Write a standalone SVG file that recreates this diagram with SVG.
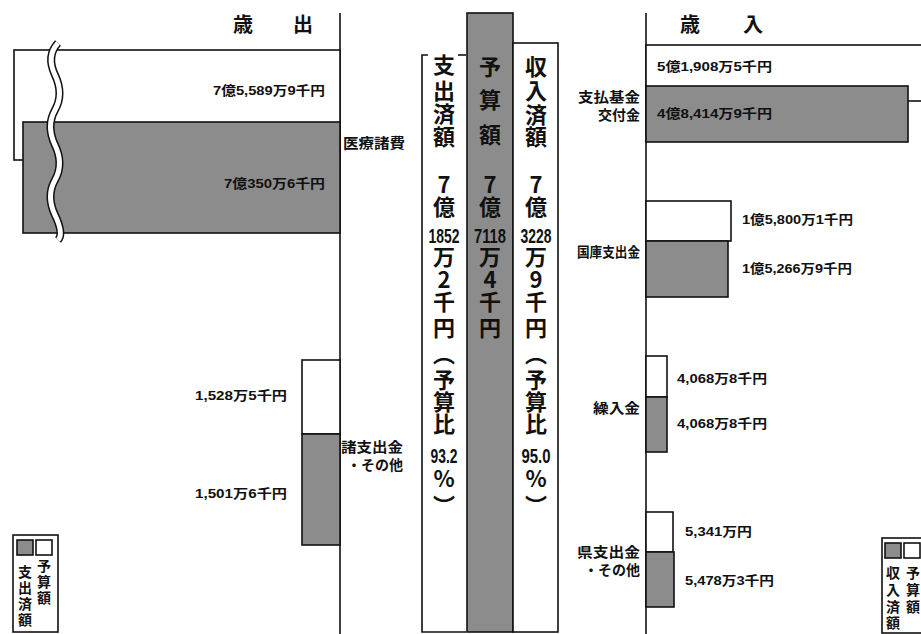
<svg xmlns="http://www.w3.org/2000/svg" width="921" height="634" viewBox="0 0 921 634">
<defs>
<style>
.bg{fill:#fff}
.w{fill:#fff;stroke:#111;stroke-width:1.6}
.g{fill:#8c8c8c;stroke:#111;stroke-width:1.6}
.ax{stroke:#111;stroke-width:1.6;fill:none}
.v{font-family:"Liberation Sans","Noto Sans CJK JP",sans-serif;font-weight:bold;font-size:13px;fill:#111}
.c{font-family:"Noto Sans CJK JP",sans-serif;font-weight:bold;font-size:14px;fill:#111}
.t{font-family:"Noto Sans CJK JP",sans-serif;font-weight:bold;font-size:20px;fill:#111;text-anchor:middle}
.col{font-family:"Noto Sans CJK JP",sans-serif;font-weight:bold;font-size:22px;fill:#111;text-anchor:middle}
.num{font-family:"Liberation Sans",sans-serif;font-weight:bold;font-size:21px;fill:#111;text-anchor:middle}
.lg{font-family:"Noto Sans CJK JP",sans-serif;font-weight:bold;font-size:14px;fill:#111;text-anchor:middle}
.e{text-anchor:end}
</style>
</defs>
<rect class="bg" x="0" y="0" width="921" height="634"/>

<g id="connectors">
<line class="ax" x1="340" y1="13" x2="340" y2="634"/>
<line class="ax" x1="646" y1="13" x2="646" y2="634"/>
</g>

<g id="title-left"><text class="t" y="32"><tspan x="243">歳</tspan><tspan x="303">出</tspan></text></g>
<g id="title-right"><text class="t" y="32"><tspan x="690">歳</tspan><tspan x="753">入</tspan></text></g>

<g id="iryo">
<rect class="w" x="14" y="50" width="326" height="110"/>
<rect class="g" x="23" y="122" width="317" height="111"/>
<path d="M58 43 Q46 56 55 75 T55 110 T55 145 T55 180 T55 215 T58 240" fill="none" stroke="#111" stroke-width="8"/>
<path d="M58 43 Q46 56 55 75 T55 110 T55 145 T55 180 T55 215 T58 240" fill="none" stroke="#fff" stroke-width="5"/>
<text class="v e" x="325" y="95" textLength="112" lengthAdjust="spacingAndGlyphs">7億5,589万9千円</text>
<text class="v e" x="325" y="188" textLength="101" lengthAdjust="spacingAndGlyphs">7億350万6千円</text>
<text class="c" x="343" y="148" textLength="62" lengthAdjust="spacingAndGlyphs">医療諸費</text>
</g>

<g id="shoshishutsu">
<rect class="w" x="302" y="360" width="38" height="74"/>
<rect class="g" x="302" y="434" width="38" height="111"/>
<text class="v e" x="287" y="400" textLength="92" lengthAdjust="spacingAndGlyphs">1,528万5千円</text>
<text class="v e" x="287" y="498" textLength="92" lengthAdjust="spacingAndGlyphs">1,501万6千円</text>
<text class="c" x="341" y="452" textLength="62" lengthAdjust="spacingAndGlyphs">諸支出金</text>
<text class="c e" x="403" y="470">・その他</text>
</g>

<g id="legend-left">
<rect class="w" x="13" y="535" width="45" height="97"/>
<rect class="g" x="17" y="540" width="16" height="15"/>
<rect class="w" x="36" y="540" width="16" height="15"/>
<text class="lg"><tspan x="25" y="577">支</tspan><tspan x="25" y="593">出</tspan><tspan x="25" y="609">済</tspan><tspan x="25" y="625">額</tspan></text>
<text class="lg"><tspan x="44" y="571">予</tspan><tspan x="44" y="587">算</tspan><tspan x="44" y="603">額</tspan></text>
</g>

<g id="col-shishutsu">
<path class="ax" d="M428 55 H422 V632 H466"/>
<line class="ax" x1="458" y1="55" x2="466" y2="55"/>
<text class="col"><tspan x="444" y="73">支</tspan><tspan x="444" y="99">出</tspan><tspan x="444" y="122">済</tspan><tspan x="444" y="145">額</tspan><tspan x="444" y="193">7</tspan><tspan x="444" y="215">億</tspan></text>
<text class="num" x="444" y="243" textLength="31" lengthAdjust="spacingAndGlyphs">1852</text>
<text class="col"><tspan x="444" y="265">万</tspan><tspan x="444" y="288">2</tspan><tspan x="444" y="310">千</tspan><tspan x="444" y="336">円</tspan></text>
<text class="col" x="444" y="362">︵</text>
<text class="col"><tspan x="444" y="388">予</tspan><tspan x="444" y="410">算</tspan><tspan x="444" y="432">比</tspan></text>
<text class="num" x="444" y="463" textLength="27" lengthAdjust="spacingAndGlyphs">93.2</text>
<text class="col" x="444" y="487">%</text>
<text class="col" x="444" y="514">︶</text>
</g>

<g id="col-yosan">
<rect class="g" x="467" y="13" width="46" height="619" fill="#888"/>
<text class="col"><tspan x="490" y="75">予</tspan><tspan x="490" y="108">算</tspan><tspan x="490" y="143">額</tspan><tspan x="490" y="193">7</tspan><tspan x="490" y="215">億</tspan></text>
<text class="num" x="490" y="243" textLength="32" lengthAdjust="spacingAndGlyphs">7118</text>
<text class="col"><tspan x="490" y="265">万</tspan><tspan x="490" y="288">4</tspan><tspan x="490" y="310">千</tspan><tspan x="490" y="336">円</tspan></text>
</g>

<g id="col-shunyu">
<rect class="w" x="513" y="43" width="45" height="589"/>
<text class="col"><tspan x="536" y="75">収</tspan><tspan x="536" y="99">入</tspan><tspan x="536" y="123">済</tspan><tspan x="536" y="145">額</tspan><tspan x="536" y="193">7</tspan><tspan x="536" y="215">億</tspan></text>
<text class="num" x="536" y="243" textLength="31" lengthAdjust="spacingAndGlyphs">3228</text>
<text class="col"><tspan x="536" y="265">万</tspan><tspan x="536" y="288">9</tspan><tspan x="536" y="310">千</tspan><tspan x="536" y="336">円</tspan></text>
<text class="col" x="536" y="362">︵</text>
<text class="col"><tspan x="536" y="388">予</tspan><tspan x="536" y="410">算</tspan><tspan x="536" y="432">比</tspan></text>
<text class="num" x="536" y="463" textLength="29" lengthAdjust="spacingAndGlyphs">95.0</text>
<text class="col" x="536" y="487">%</text>
<text class="col" x="536" y="514">︶</text>
</g>

<g id="shiharai">
<rect class="w" x="646" y="45" width="300" height="56"/>
<rect class="g" x="646" y="86" width="262" height="56"/>
<text class="v" x="657" y="71" textLength="115" lengthAdjust="spacingAndGlyphs">5億1,908万5千円</text>
<text class="v" x="657" y="118" textLength="115" lengthAdjust="spacingAndGlyphs">4億8,414万9千円</text>
<text class="c e" x="640" y="102" textLength="62" lengthAdjust="spacingAndGlyphs">支払基金</text>
<text class="c e" x="640" y="120">交付金</text>
</g>

<g id="kokko">
<rect class="w" x="646" y="201" width="85" height="40"/>
<rect class="g" x="646" y="241" width="82" height="56"/>
<text class="v" x="742" y="224" textLength="111" lengthAdjust="spacingAndGlyphs">1億5,800万1千円</text>
<text class="v" x="742" y="273" textLength="110" lengthAdjust="spacingAndGlyphs">1億5,266万9千円</text>
<text class="c e" x="640" y="257" textLength="63" lengthAdjust="spacingAndGlyphs">国庫支出金</text>
</g>

<g id="kurire">
<rect class="w" x="646" y="356" width="21" height="41"/>
<rect class="g" x="646" y="397" width="21" height="55"/>
<text class="v" x="677" y="383" textLength="90" lengthAdjust="spacingAndGlyphs">4,068万8千円</text>
<text class="v" x="677" y="428" textLength="90" lengthAdjust="spacingAndGlyphs">4,068万8千円</text>
<text class="c e" x="640" y="413" textLength="47" lengthAdjust="spacingAndGlyphs">繰入金</text>
</g>

<g id="ken">
<rect class="w" x="646" y="512" width="27" height="40"/>
<rect class="g" x="646" y="552" width="28" height="55"/>
<text class="v" x="685" y="536" textLength="67" lengthAdjust="spacingAndGlyphs">5,341万円</text>
<text class="v" x="685" y="585" textLength="89" lengthAdjust="spacingAndGlyphs">5,478万3千円</text>
<text class="c e" x="640" y="557" textLength="63" lengthAdjust="spacingAndGlyphs">県支出金</text>
<text class="c e" x="640" y="575">・その他</text>
</g>

<g id="legend-right">
<rect class="w" x="882" y="538" width="50" height="95"/>
<rect class="g" x="885" y="543" width="16" height="15"/>
<rect class="w" x="904" y="543" width="16" height="15"/>
<text class="lg"><tspan x="893" y="578">収</tspan><tspan x="893" y="595">入</tspan><tspan x="893" y="612">済</tspan><tspan x="893" y="628">額</tspan></text>
<text class="lg"><tspan x="913" y="578">予</tspan><tspan x="913" y="595">算</tspan><tspan x="913" y="612">額</tspan></text>
</g>
</svg>
